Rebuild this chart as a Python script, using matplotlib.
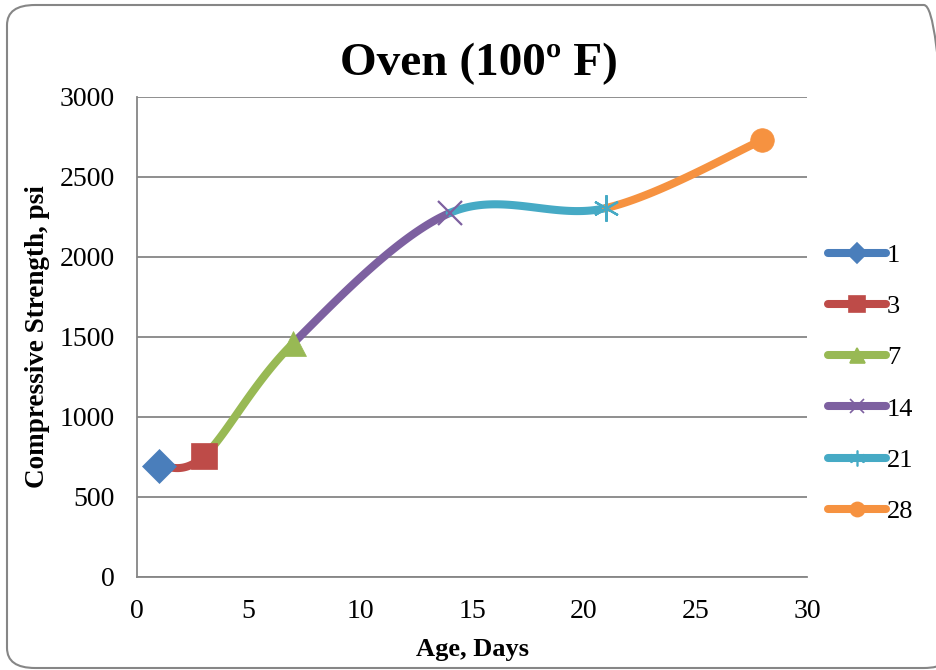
import matplotlib
matplotlib.use("Agg")

import matplotlib.pyplot as plt
import numpy as np
from matplotlib.lines import Line2D
from matplotlib.patches import FancyBboxPatch

# Data
ages = [1, 3, 7, 14, 21, 28]
strength = [694, 756, 1462, 2275, 2306, 2731]
labels = ["1", "3", "7", "14", "21", "28"]
colors = ["#4A7EBB", "#BE4B48", "#98B954", "#7D60A0", "#46AAC5", "#F69240"]
markers = ["D", "s", "^", "x", (6, 2, 0), "o"]
marker_sizes = [17, 19, 18, 17, 19, 17]

plt.rcParams["font.family"] = ["Liberation Serif", "DejaVu Serif"]


def smooth_segment(pts, i, n=60):
    # Excel-like smoothing: cubic Bezier with Catmull-Rom control points
    p0 = pts[max(i - 1, 0)]
    p1 = pts[i]
    p2 = pts[i + 1]
    p3 = pts[min(i + 2, len(pts) - 1)]
    c1 = p1 + (p2 - p0) / 6.0
    c2 = p2 - (p3 - p1) / 6.0
    t = np.linspace(0, 1, n)[:, None]
    return ((1 - t) ** 3) * p1 + 3 * ((1 - t) ** 2) * t * c1 + 3 * (1 - t) * t ** 2 * c2 + t ** 3 * p2


fig = plt.figure(figsize=(9.36, 6.7), dpi=100, facecolor="white")

# Rounded chart frame (right side runs off the picture)
frame = FancyBboxPatch((7 / 936, 2 / 670), 945 / 936, 663 / 670,
                       boxstyle="round,pad=0,rounding_size=0.03",
                       transform=fig.transFigure, facecolor="none",
                       edgecolor="#868686", linewidth=1.5, zorder=-1)
fig.patches.append(frame)

ax = fig.add_axes([137 / 936, 93 / 670, 670 / 936, 480 / 670])
ax.set_facecolor("none")

# work in display-ish coords so the smoothing looks like Excel's
pts = np.column_stack([np.array(ages, float) / 30.0 * 670, np.array(strength, float) / 3000.0 * 480])
for i in range(len(ages) - 1):
    seg = smooth_segment(pts, i)
    ax.plot(seg[:, 0] / 670 * 30, seg[:, 1] / 480 * 3000, color=colors[i + 1],
            linewidth=5.8, solid_capstyle="round", zorder=3)

for x, y, c, m, ms in zip(ages, strength, colors, markers, marker_sizes):
    mew = 1.6 if m in ("x", (6, 2, 0)) else 0.5
    ax.plot([x], [y], marker=m, markersize=ms, color=c, markerfacecolor=c,
            markeredgecolor=c, markeredgewidth=mew, linestyle="none", zorder=4)

ax.set_xlim(0, 30)
ax.set_ylim(0, 3000)
ax.set_xticks(range(0, 31, 5))
ax.set_yticks(range(0, 3001, 500))
ax.grid(axis="y", color="#868686", linewidth=1.3)
ax.set_axisbelow(True)
for s in ["top", "right"]:
    ax.spines[s].set_visible(False)
for s in ["left", "bottom"]:
    ax.spines[s].set_color("#868686")
    ax.spines[s].set_linewidth(1.3)
ax.tick_params(axis="both", length=0, labelsize=20, colors="black")
ax.tick_params(axis="y", pad=16)
ax.tick_params(axis="x", pad=16)

ax.set_xlabel("Age, Days", fontsize=19, fontweight="bold", labelpad=10)
ax.set_ylabel("Compressive Strength, psi", fontsize=19.5, fontweight="bold", labelpad=7)

fig.text(0.512, 0.905, "Oven (100\u00ba F)", fontsize=34, fontweight="bold",
         ha="center", va="center")

handles = [Line2D([0], [0], color=c, linewidth=5.8, solid_capstyle="round",
                  marker=m, markersize=ms * 0.6, markerfacecolor=c, markeredgecolor=c,
                  markeredgewidth=1.2)
           for c, m, ms in zip(colors, markers, marker_sizes)]
fig.legend(handles, labels, loc="center left", bbox_to_anchor=(0.870, 0.428),
           frameon=False, fontsize=19, handlelength=2.2, handletextpad=0.05,
           labelspacing=1.05, numpoints=1, borderpad=0)

fig.savefig("out.png", dpi=100)
plt.close(fig)
